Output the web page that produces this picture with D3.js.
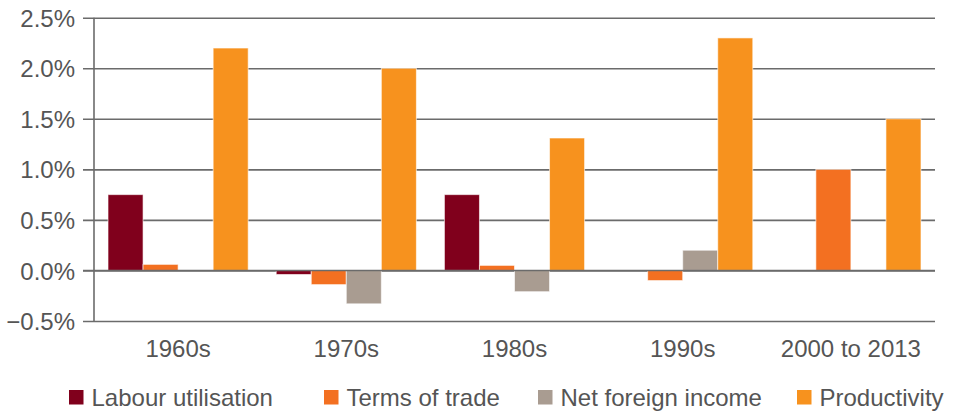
<!DOCTYPE html>
<html>
<head>
<meta charset="utf-8">
<script src="https://cdn.jsdelivr.net/npm/d3@7"></script>
<style>
  body { margin: 0; background: #fff; }
  text { font-family: "Liberation Sans", Arial, sans-serif; fill: #555; }
</style>
</head>
<body>
<div id="container"></div>
<script>
// data
var periods = ["1960s", "1970s", "1980s", "1990s", "2000 to 2013"];
var seriesNames = ["Labour utilisation", "Terms of trade", "Net foreign income", "Productivity"];
var labour = [0.75, -0.04, 0.75, 0.0, 0.0];
var termsOfTrade = [0.06, -0.14, 0.05, -0.10, 1.0];
var netForeign = [0.0, -0.33, -0.21, 0.2, 0.0];
var productivity = [2.2, 2.0, 1.31, 2.3, 1.5];
var yTicks = [-0.5, 0, 0.5, 1.0, 1.5, 2.0, 2.5];

var colors = ["#80001c", "#f37021", "#a99c91", "#f7921e"];

const width = 960;
const height = 414;
const plot = { left: 94, right: 935, top: 17.7, bottom: 321 };
const fontSize = "24px";

var svg = d3.select("div#container").append("svg")
    .attr("width", width)
    .attr("height", height);

var xScale = d3.scaleBand()
    .domain(periods)
    .range([plot.left, plot.right]);

var xInner = d3.scaleBand()
    .domain(seriesNames)
    .range([0, xScale.bandwidth()])
    .paddingOuter(0.4);

var yScale = d3.scaleLinear()
    .domain([-0.5, 2.5])
    .range([plot.bottom, plot.top]);

//----------------------------GRID------------------------------//
var yaxis = d3.axisLeft(yScale)
    .tickValues(yTicks)
    .tickSize(-(plot.right - plot.left))
    .tickPadding(19)
    .tickFormat(function(d) { return d3.format(".1f")(d) + "%"; });

var gy = svg.append("g")
    .attr("transform", "translate(" + plot.left + ",0)")
    .call(yaxis);
gy.select(".domain").remove();
gy.selectAll(".tick line")
    .attr("x1", -11)
    .attr("stroke", "#6b6b6b")
    .attr("stroke-width", 1.6);
gy.selectAll(".tick text")
    .style("font-size", fontSize)
    .attr("dy", "0.36em");

//----------------------------BARS------------------------------//
var rows = periods.map(function(p, i) {
  return { period: p, values: [labour[i], termsOfTrade[i], netForeign[i], productivity[i]] };
});

var groups = svg.selectAll("g.group")
    .data(rows)
    .enter()
    .append("g")
    .attr("class", "group")
    .attr("transform", function(d) { return "translate(" + xScale(d.period) + ",0)"; });

groups.selectAll("rect")
    .data(function(d) {
      return d.values.map(function(v, j) { return { name: seriesNames[j], value: v, j: j }; })
        .filter(function(e) { return e.value !== 0; });
    })
    .enter()
    .append("rect")
    .attr("x", function(d) { return xInner(d.name); })
    .attr("width", xInner.bandwidth())
    .attr("y", function(d) { return yScale(Math.max(0, d.value)); })
    .attr("height", function(d) { return Math.abs(yScale(d.value) - yScale(0)); })
    .attr("fill", function(d) { return colors[d.j]; })
    .attr("stroke", "#fff")
    .attr("stroke-opacity", 0.6)
    .attr("stroke-width", 1);

// zero line and y axis line on top
svg.append("line")
    .attr("x1", plot.left - 11)
    .attr("x2", plot.right)
    .attr("y1", yScale(0))
    .attr("y2", yScale(0))
    .attr("stroke", "#6b6b6b")
    .attr("stroke-width", 1.6);

svg.append("line")
    .attr("x1", plot.left)
    .attr("x2", plot.left)
    .attr("y1", yScale(2.5))
    .attr("y2", yScale(-0.5))
    .attr("stroke", "#6b6b6b")
    .attr("stroke-width", 1.6);

//--------------------------X LABELS----------------------------//
svg.selectAll("text.xlabel")
    .data(periods)
    .enter()
    .append("text")
    .attr("class", "xlabel")
    .attr("x", function(d) { return xScale(d) + xScale.bandwidth() / 2; })
    .attr("y", 357)
    .attr("text-anchor", "middle")
    .style("font-size", fontSize)
    .text(function(d) { return d; });

//---------------------------LEGEND-----------------------------//
var legendX = [69, 324, 538, 797];
var legend = svg.selectAll("g.legend")
    .data(seriesNames)
    .enter()
    .append("g")
    .attr("class", "legend")
    .attr("transform", function(d, i) { return "translate(" + legendX[i] + ",390)"; });

legend.append("rect")
    .attr("width", 14.5)
    .attr("height", 14.5)
    .attr("fill", function(d, i) { return colors[i]; });

legend.append("text")
    .attr("x", 22.5)
    .attr("y", 15.5)
    .style("font-size", fontSize)
    .text(function(d) { return d; });
</script>
</body>
</html>
